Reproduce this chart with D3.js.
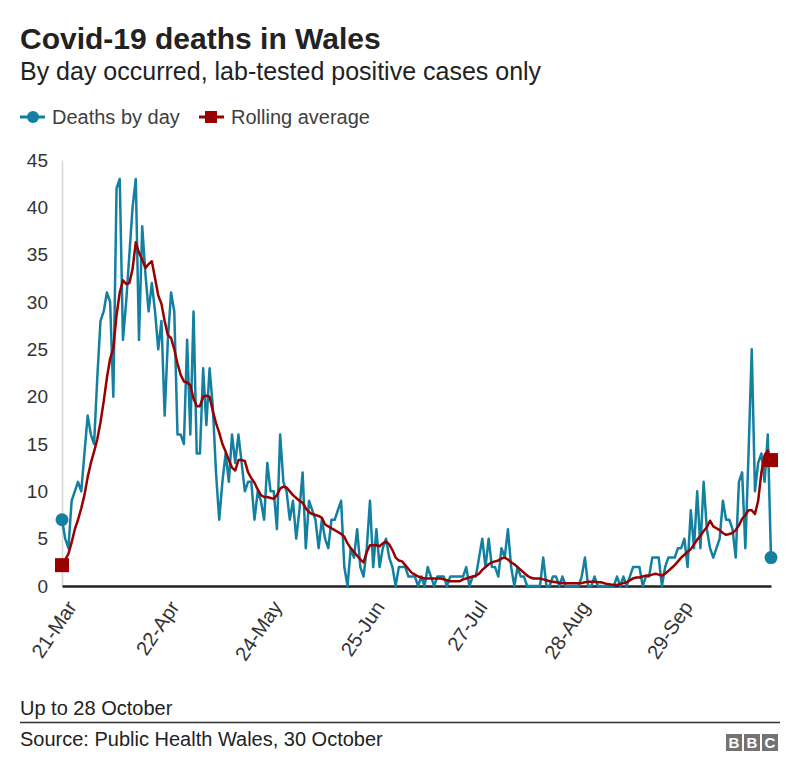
<!DOCTYPE html>
<html><head><meta charset="utf-8">
<script src="https://cdn.jsdelivr.net/npm/d3@7"></script>
<style>
body{margin:0;background:#fff;}
svg text{font-family:"Liberation Sans", Arial, Helvetica, sans-serif;}
</style></head>
<body><svg id="chart" width="800" height="777"></svg>
<script>
const startDate = "2020-03-21";
const deaths = [
7,5,4,9,10,11,10,14,18,16,
15,22,28,29,31,30,20,42,43,26,
30,35,40,43,26,38,33,29,32,29,
25,28,18,26,31,29,16,16,15,26,
16,29,14,14,23,17,23,19,12,7,
11,14,11,16,13,16,13,10,11,11,
7,10,9,7,13,10,10,6,16,11,
10,7,9,5,8,12,4,9,8,7,
4,7,5,4,7,7,8,9,2,0,
4,3,6,2,1,4,9,2,6,2,
4,5,3,2,0,2,2,2,1,1,
1,0,1,0,2,1,0,1,1,1,
0,1,1,1,1,1,2,0,1,1,
3,5,2,5,2,2,1,4,3,6,
2,0,2,1,1,0,0,0,0,0,
3,0,0,1,1,0,1,0,0,0,
0,0,1,3,0,0,1,0,0,0,
0,0,0,1,0,1,0,1,2,2,
2,0,1,1,3,3,3,0,2,3,
3,3,4,4,5,2,8,4,10,4,
11,6,4,3,4,5,9,7,7,6,
3,11,12,4,14,25,10,13,14,11,
16,3
];
const rolling = [
2.2,2.8,3.4,4.6,6.0,7.0,8.2,9.6,11.5,13.0,
14.2,15.5,17.3,19.5,22.0,24.0,25.1,28.6,31.0,32.3,
31.9,32.0,33.5,36.3,35.2,34.5,33.6,34.0,34.3,32.5,
30.7,29.8,28.0,26.5,26.2,25.0,23.5,22.3,21.6,21.5,
21.2,19.8,19.0,19.0,20.0,20.1,20.0,18.5,17.2,16.2,
15.0,14.2,13.3,12.5,12.2,13.3,13.3,13.2,12.0,11.4,
10.9,10.2,9.6,9.4,9.4,9.3,9.2,9.6,10.3,10.5,
10.4,10.0,9.6,9.3,9.0,8.8,8.2,7.8,7.6,7.5,
7.4,7.2,6.5,6.3,6.1,5.9,5.7,5.5,5.2,4.5,
4.0,3.6,3.2,2.8,2.5,3.6,4.3,4.3,4.3,4.2,
4.5,4.7,4.4,3.8,3.0,2.7,2.6,2.2,1.8,1.4,
1.2,1.0,0.9,0.8,0.8,0.8,0.8,0.8,0.8,0.7,
0.6,0.5,0.5,0.5,0.5,0.7,0.8,0.9,1.0,1.1,
1.3,1.7,2.0,2.3,2.5,2.6,2.7,2.9,3.0,2.8,
2.5,2.3,2.0,1.7,1.4,1.1,0.9,0.8,0.8,0.8,
0.7,0.6,0.5,0.45,0.4,0.35,0.3,0.3,0.3,0.3,
0.3,0.3,0.3,0.4,0.45,0.45,0.45,0.4,0.4,0.3,
0.2,0.15,0.1,0.1,0.2,0.3,0.4,0.6,0.8,0.9,
0.9,1.0,1.1,1.1,1.2,1.3,1.2,1.1,1.3,1.6,
1.9,2.2,2.6,3.0,3.3,3.6,3.9,4.4,4.9,5.3,
5.8,6.2,6.9,6.3,6.1,5.9,5.6,5.4,5.5,5.6,
5.9,6.4,7.1,7.5,8.0,8.0,7.6,9.0,12.0,13.8,
14.3,13.3
];
const tickLabels = ["21-Mar","22-Apr","24-May","25-Jun","27-Jul","28-Aug","29-Sep"];
const yTicks = [0,5,10,15,20,25,30,35,40,45];
const seriesNames = ["Deaths by day","Rolling average"];
const seriesColors = ["#1380a1","#990000"];

const parse = d3.timeParse("%Y-%m-%d");
const t0 = parse(startDate);
const dates = deaths.map((_, i) => d3.timeDay.offset(t0, i));
const parseTick = d3.timeParse("%d-%b-%Y");
const tickDates = tickLabels.map(s => parseTick(s + "-2020"));

const svg = d3.select("#chart");
svg.append("rect").attr("width",800).attr("height",777).attr("fill","#fff");

const x = d3.scaleTime().domain([dates[0], dates[dates.length-1]]).range([62, 771]);
const y = d3.scaleLinear().domain([0,45]).range([586,160]);

// titles
svg.append("text").attr("x",20).attr("y",49).attr("font-size",30).attr("font-weight","bold").attr("fill","#222").text("Covid-19 deaths in Wales");
svg.append("text").attr("x",20).attr("y",80).attr("font-size",25).attr("fill","#222").text("By day occurred, lab-tested positive cases only");

// legend
const lg = svg.append("g");
lg.append("line").attr("x1",20).attr("x2",45).attr("y1",117).attr("y2",117).attr("stroke",seriesColors[0]).attr("stroke-width",3);
lg.append("circle").attr("cx",33).attr("cy",117).attr("r",6).attr("fill",seriesColors[0]);
lg.append("text").attr("x",52).attr("y",124).attr("font-size",20).attr("fill","#404040").text(seriesNames[0]);
lg.append("line").attr("x1",199).attr("x2",224).attr("y1",117).attr("y2",117).attr("stroke",seriesColors[1]).attr("stroke-width",3);
lg.append("rect").attr("x",205).attr("y",111).attr("width",12).attr("height",12).attr("fill",seriesColors[1]);
lg.append("text").attr("x",231).attr("y",124).attr("font-size",20).attr("fill","#404040").text(seriesNames[1]);

// y axis
const yAxis = svg.append("g").attr("transform","translate(62,0)")
  .call(d3.axisLeft(y).tickValues(yTicks).tickSize(0).tickSizeOuter(0).tickPadding(14));
yAxis.select(".domain").attr("stroke","#d6d6d6").attr("stroke-width",1.5);
yAxis.selectAll("text").attr("font-size",19).attr("fill","#333").attr("font-family","Liberation Sans, Arial, sans-serif");

// x axis
const xAxis = svg.append("g").attr("transform","translate(0,586)")
  .call(d3.axisBottom(x).tickValues(tickDates).tickFormat(d3.timeFormat("%d-%b")).tickSize(0).tickSizeOuter(0));
xAxis.select(".domain").attr("stroke","#222").attr("stroke-width",2.5);
xAxis.selectAll("text").attr("font-size",20).attr("fill","#333").attr("font-family","Liberation Sans, Arial, sans-serif")
  .attr("text-anchor","end").attr("dy",null).attr("y",null)
  .attr("transform","translate(15,21) rotate(-56)");

// lines
const line = d3.line().x((d,i)=>x(dates[i])).y(d=>y(d));
svg.append("path").datum(deaths).attr("d",line).attr("fill","none").attr("stroke",seriesColors[0]).attr("stroke-width",2.5).attr("stroke-linejoin","round");
svg.append("path").datum(rolling).attr("d",line).attr("fill","none").attr("stroke",seriesColors[1]).attr("stroke-width",2.5).attr("stroke-linejoin","round");

const last = deaths.length-1;
[0,last].forEach(i=>{
  svg.append("circle").attr("cx",x(dates[i])).attr("cy",y(deaths[i])).attr("r",6.5).attr("fill",seriesColors[0]);
  svg.append("rect").attr("x",x(dates[i])-7).attr("y",y(rolling[i])-7).attr("width",14).attr("height",14).attr("fill",seriesColors[1]);
});

// footer
svg.append("text").attr("x",20).attr("y",715).attr("font-size",20).attr("fill","#222").text("Up to 28 October");
svg.append("line").attr("x1",20).attr("x2",780).attr("y1",722.5).attr("y2",722.5).attr("stroke","#333").attr("stroke-width",1.5);
svg.append("text").attr("x",20).attr("y",746).attr("font-size",20).attr("fill","#222").text("Source: Public Health Wales, 30 October");
const logo = svg.append("g");
["B","B","C"].forEach((c,i)=>{
  logo.append("rect").attr("x",726+i*18).attr("y",734).attr("width",16).attr("height",17).attr("fill","#737373");
  logo.append("text").attr("x",734+i*18).attr("y",748).attr("text-anchor","middle").attr("font-size",15).attr("font-weight","bold").attr("fill","#fff").text(c);
});
</script></body></html>
